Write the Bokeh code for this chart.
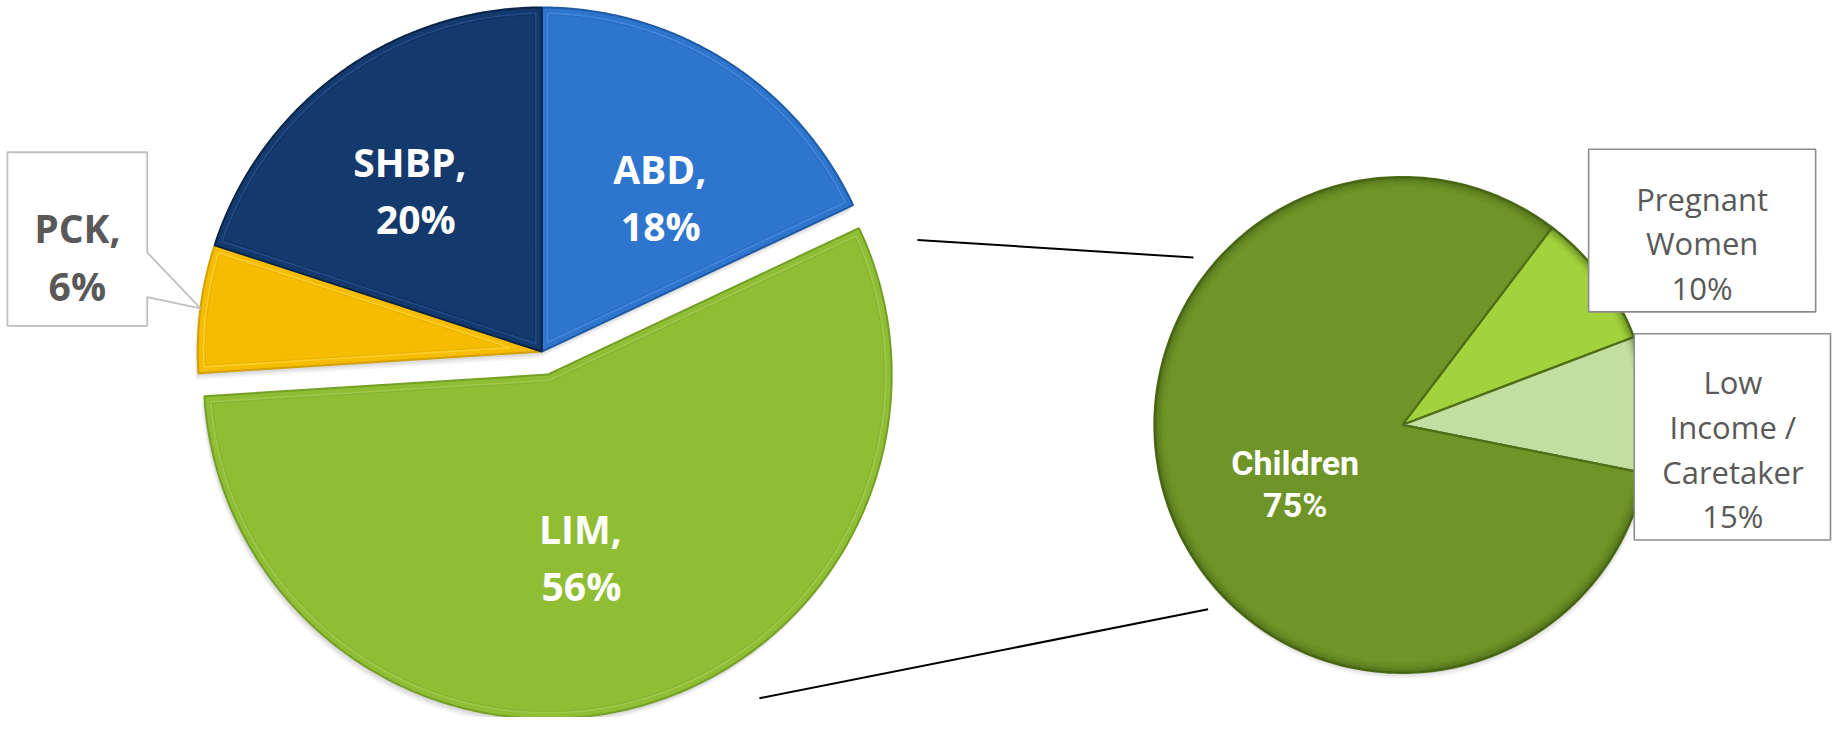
import numpy as np
from bokeh.plotting import figure
from bokeh.models import Range1d
from bokeh.core.properties import value
from bokeh.embed import file_html
from bokeh.resources import INLINE

# ---------------- data ----------------
main_categories = ["ABD", "LIM", "PCK", "SHBP"]
main_shares = [18, 56, 6, 20]                      # percent
main_colors = ["#2E75CE", "#8FBD34", "#F6BC00", "#13396D"]
main_edges = ["#1D5BA6", "#73A024", "#D49F00", "#0A2447"]
main_bevel = ["#4A8BDD", "#A3CC52", "#FFD23A", "#24508C"]

sub_categories = ["Pregnant Women", "Low Income / Caretaker", "Children"]
sub_label_pct = [10, 15, 75]                        # percent as printed on the labels
sub_slice_shares = [8.9, 8.9, 82.2]                 # slice sizes as drawn in the picture
sub_colors = ["#A2D33C", "#C4DEA1", "#6F9427"]
sub_label_lines = [["Pregnant", "Women"], ["Low", "Income /", "Caretaker"], ["Children"]]

# ---------------- layout / style ----------------
MAIN_C = (546.0, 357.0)
MAIN_R = 347.0
EXPLODE = [0, 24, 0, 0]
SUB_C = (1414.0, 431.0)
SUB_R = 250.0
SUB_START = 37.2
BEVEL = 6.0

p = figure(width=1832, height=717, x_range=Range1d(0, 1848), y_range=Range1d(726, 3),
           output_backend="svg", toolbar_location=None, min_border=0)
p.axis.visible = False
p.grid.visible = False
p.outline_line_color = None
p.background_fill_color = "white"
p.border_fill_color = "white"


def pt(c, r, a):
    a = np.radians(a)
    return c[0] + r * np.sin(a), c[1] - r * np.cos(a)


def wedge(c, r, a0, a1, n=240):
    ang = np.radians(np.linspace(a0, a1, n))
    xs = np.concatenate([[c[0]], c[0] + r * np.sin(ang)])
    ys = np.concatenate([[c[1]], c[1] - r * np.cos(ang)])
    return xs, ys


def inset(c, r, a0, a1, d, n=240):
    dl = np.degrees(np.arcsin(d / (r - d)))
    ang = np.radians(np.linspace(a0 + dl, a1 - dl, n))
    xs = list(c[0] + (r - d) * np.sin(ang))
    ys = list(c[1] - (r - d) * np.cos(ang))
    th = a1 - a0
    mid = np.radians((a0 + a1) / 2)
    k = d / np.sin(np.radians(th / 2)) if th < 180 else d
    xs.append(c[0] + k * np.sin(mid))
    ys.append(c[1] - k * np.cos(mid))
    xs.append(xs[0])
    ys.append(ys[0])
    return xs, ys


# ---------------- main pie ----------------
starts = np.concatenate([[0], np.cumsum(main_shares)[:-1]]) * 3.6
ends = np.cumsum(main_shares) * 3.6
mids = (starts + ends) / 2
centers = [pt(MAIN_C, EXPLODE[i], mids[i]) for i in range(len(main_shares))]

# soft shadow
for off, al in [(7, 0.04), (5, 0.05), (3, 0.06)]:
    for i in range(len(main_shares)):
        xs, ys = wedge(centers[i], MAIN_R, starts[i], ends[i])
        p.patch(xs - off * 0.4, ys + off, fill_color="#000000", fill_alpha=al, line_color=None)

for i in range(len(main_shares)):
    xs, ys = wedge(centers[i], MAIN_R, starts[i], ends[i])
    p.patch(xs, ys, fill_color=main_colors[i], line_color=main_edges[i], line_width=2)
    ix, iy = inset(centers[i], MAIN_R, starts[i], ends[i], BEVEL)
    p.line(ix, iy, line_color=main_bevel[i], line_width=1.6, line_alpha=0.8)
    ix2, iy2 = inset(centers[i], MAIN_R, starts[i], ends[i], BEVEL + 1.5)
    p.line(ix2, iy2, line_color=main_edges[i], line_width=1.0, line_alpha=0.35)

# ---------------- connectors ----------------
lim = main_categories.index("LIM")
c_from = [pt(centers[lim], MAIN_R + 50, starts[lim] + 5.2),
          pt(centers[lim], MAIN_R + 43, starts[lim] + 82.0)]
c_to = [pt(SUB_C, SUB_R + 20, 308.7), pt(SUB_C, SUB_R + 20, 226.5)]
for (x0, y0), (x1, y1) in zip(c_from, c_to):
    p.line([x0, x1], [y0, y1], line_color="black", line_width=2)

# ---------------- sub pie ----------------
s_starts = SUB_START + np.concatenate([[0], np.cumsum(sub_slice_shares)[:-1]]) * 3.6
s_ends = SUB_START + np.cumsum(sub_slice_shares) * 3.6

for off, al in [(6, 0.04), (4, 0.05), (2, 0.06)]:
    xs, ys = wedge(SUB_C, SUB_R, 0, 360)
    p.patch(xs[1:] + off * 0.3, ys[1:] + off, fill_color="#000000", fill_alpha=al, line_color=None)

for i in range(len(sub_slice_shares)):
    xs, ys = wedge(SUB_C, SUB_R, s_starts[i], s_ends[i])
    p.patch(xs, ys, fill_color=sub_colors[i], line_color="#4F6E17", line_width=2.2)

# rim shading (inner shadow)
ang = np.radians(np.linspace(0, 360, 400))
for k, al in [(1.0, 0.55), (3.0, 0.35), (5.0, 0.22), (7.0, 0.12), (9.5, 0.06)]:
    p.line(SUB_C[0] + (SUB_R - k) * np.sin(ang), SUB_C[1] - (SUB_R - k) * np.cos(ang),
           line_color="#3B5510", line_alpha=al, line_width=2.2)

# ---------------- labels ----------------
white_font = dict(text_font=value("Open Sans"), text_font_style="bold", text_font_size="39px",
                  text_color="white", text_align="center", text_baseline="alphabetic")

main_label_pos = {
    "ABD": [(665, 172), (666, 230)],
    "SHBP": [(413, 165), (419, 223)],
    "LIM": [(585, 535), (586, 593)],
}
for cat, share in zip(main_categories, main_shares):
    if cat in main_label_pos:
        (x1, y1), (x2, y2) = main_label_pos[cat]
        p.text(x=[x1, x2], y=[y1, y2], text=[f"{cat},", f"{share}%"], **white_font)

# PCK callout
pck = main_categories.index("PCK")
tip = pt(centers[pck], MAIN_R, mids[pck])
bx0, bx1, by0, by1 = 7, 148, 156, 331
p.patch([bx0, bx1, bx1, tip[0], bx1, bx1, bx0], [by0, by0, 257, tip[1], 302, by1, by1],
        fill_color="white", line_color="#BFBFBF", line_width=1.8)
p.text(x=[77.5, 77.5], y=[232, 290],
       text=[f"{main_categories[pck]},", f"{main_shares[pck]}%"],
       text_font=value("Open Sans"), text_font_style="bold", text_font_size="39px",
       text_color="#595959", text_align="center", text_baseline="alphabetic")

# sub pie labels
boxes = [(1602, 1831, 153, 317), (1648, 1846, 339, 547)]
for (l, r, t, b) in boxes:
    p.quad(left=l, right=r, top=t, bottom=b, fill_color="white",
           line_color="#8C8C8C", line_width=1.6)

gray_font = dict(text_font=value("Open Sans"), text_font_size="31px", text_color="#595959",
                 text_align="center", text_baseline="alphabetic")
p.text(x=[1716.5] * 3, y=[203, 248, 293],
       text=sub_label_lines[0] + [f"{sub_label_pct[0]}%"], **gray_font)
p.text(x=[1747.5] * 4, y=[388, 433, 478, 523],
       text=sub_label_lines[1] + [f"{sub_label_pct[1]}%"], **gray_font)

p.text(x=[1306, 1306], y=[469, 512], text=sub_label_lines[2] + [f"{sub_label_pct[2]}%"],
       text_font=value("Roboto"), text_font_style="bold",
       text_font_size="34px", text_color="white", text_align="center",
       text_baseline="alphabetic")

open("out.html", "w").write(file_html(p, INLINE))
